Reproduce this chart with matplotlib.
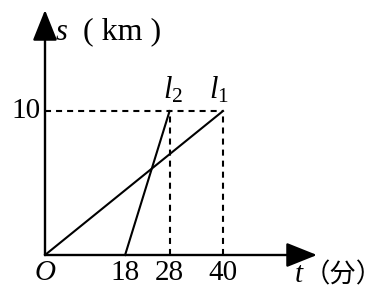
import matplotlib
matplotlib.use('Agg')
import matplotlib.pyplot as plt

# data
l1_t = [0, 40]
l1_s = [0, 10]
l2_t = [18, 28]
l2_s = [0, 10]
t_ticks = [18, 28, 40]
t_labels = ['18', '28', '40']
s_mark = 10

plt.rcParams['font.family'] = ['Liberation Serif', 'Noto Sans CJK SC']
plt.rcParams['mathtext.fontset'] = 'custom'
plt.rcParams['mathtext.rm'] = 'Liberation Serif'
plt.rcParams['mathtext.it'] = 'Liberation Serif:italic'

W, H = 386, 295
fig = plt.figure(figsize=(W / 100, H / 100), dpi=100)
ax = fig.add_axes([0, 0, 1, 1])

# pixel layout: origin at (45, 255), t=40 at x=223, s=10 at y=111
px_t = (223 - 45) / 40
px_s = (255 - 111) / 10
ax.set_xlim(-45 / px_t, (W - 45) / px_t)
ax.set_ylim(-(H - 255) / px_s, 255 / px_s)
ax.axis('off')

# axes with arrows
arrow = dict(arrowstyle='-|>,head_length=0.95,head_width=0.38', lw=1.7,
             color='black', mutation_scale=20, shrinkA=0, shrinkB=0)
ax.annotate('', xy=(272 / px_t, 0), xytext=(0, 0), arrowprops=arrow)
ax.annotate('', xy=(0, 245 / px_s), xytext=(0, 0), arrowprops=arrow)

# dashed guides
dash = dict(color='black', lw=1.5, dashes=(2.9, 2.4))
ax.plot([0, l1_t[1]], [s_mark, s_mark], **dash)
ax.plot([l2_t[1], l2_t[1]], [0, s_mark], **dash)
ax.plot([l1_t[1], l1_t[1]], [0, s_mark], **dash)

# the two lines
ax.plot(l1_t, l1_s, color='black', lw=1.5)
ax.plot(l2_t, l2_s, color='black', lw=1.5)

# tick labels
lab_y = -18 / px_s
for t, lab in zip(t_ticks, t_labels):
    ax.text(t, lab_y, lab, fontsize=21, ha='center', va='center')
ax.text(-4 / px_t, s_mark, str(s_mark), fontsize=21, ha='right', va='center')
ax.text(0, lab_y, 'O', fontsize=21, style='italic', ha='center', va='center')

# axis titles
ax.text(254 / px_t, -20 / px_s, 't', fontsize=21, style='italic',
        ha='center', va='center')
ax.text(259 / px_t, -20 / px_s, '（分）', fontsize=19,
        ha='left', va='center')
ax.text(17 / px_t, 223 / px_s, 's', fontsize=22, style='italic',
        ha='center', va='center')
ax.text(38 / px_t, 223 / px_s, '( km )', fontsize=23, ha='left', va='center')

# line names
ax.text(l2_t[1] + 0.8, s_mark + 0.35, r'$l_2$', fontsize=22, ha='center', va='bottom')
ax.text(l1_t[1] - 1.0, s_mark + 0.35, r'$l_1$', fontsize=22, ha='center', va='bottom')

fig.savefig('out.png', dpi=100)
